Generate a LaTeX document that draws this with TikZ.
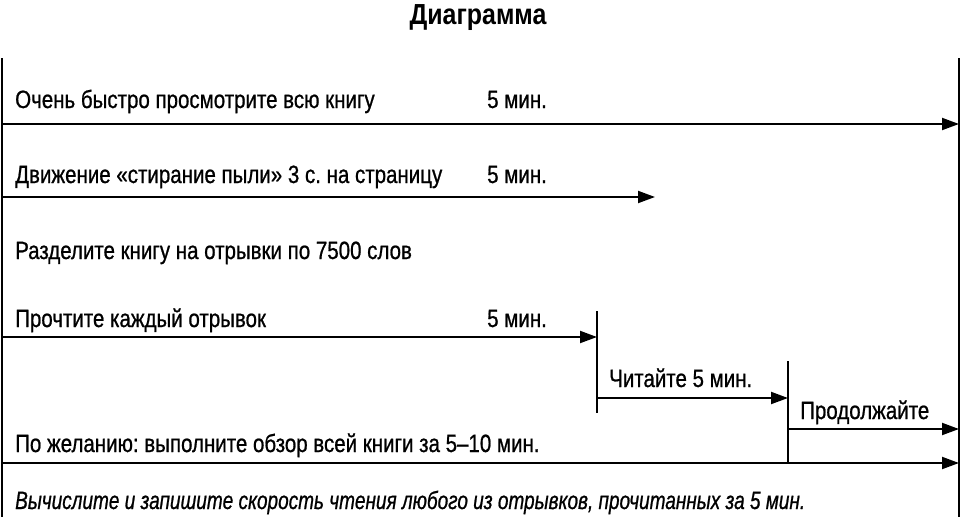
\documentclass[tikz,border=0pt]{standalone}
\usepackage{fontspec}
\setmainfont[FakeStretch=0.82,FakeBold=0.8,
  BoldFeatures={FakeStretch=0.86,FakeBold=0},
  ItalicFeatures={FakeStretch=0.76,FakeBold=0.8}]{Liberation Sans}
\frenchspacing
\usepackage{tikz}
\usetikzlibrary{arrows.meta}
\tikzset{
  line/.style={line width=2pt},
  arr/.style={line width=2pt,-{Triangle[length=17pt,width=12pt]}},
  lbl/.style={anchor=base west,inner sep=0pt,font=\fontsize{25}{29}\selectfont},
}
\begin{document}
\begin{tikzpicture}[x=1pt,y=-1pt]
            \useasboundingbox (0,0) rectangle (962,517);
            \node (title) at (478,24) [anchor=base,inner sep=0pt,font=\fontsize{29}{34}\selectfont\bfseries] {Диаграмма};
            % frame
            \coordinate (lt) at (2,58);
            \coordinate (lb) at (2,517);
            \coordinate (rt) at (959,58);
            \coordinate (rb) at (959,517);
            \draw[line] (lt)--(lb);
            \draw[line] (rt)--(rb);
            % steps
            \node (s1) at (15,108) [lbl] {Очень быстро просмотрите всю книгу};
            \node (t1) at (487,108) [lbl] {5 мин.};
            \coordinate (a1) at (2,124);
            \coordinate (b1) at (959,124);
            \draw[arr] (a1)--(b1);
            \node (s2) at (15,183) [lbl] {Движение «стирание пыли» 3 с. на страницу};
            \node (t2) at (487,183) [lbl] {5 мин.};
            \coordinate (a2) at (2,197);
            \coordinate (b2) at (655,197);
            \draw[arr] (a2)--(b2);
            \node (s3) at (15,259) [lbl] {Разделите книгу на отрывки по 7500 слов};
            \node (s4) at (15,327) [lbl] {Прочтите каждый отрывок};
            \node (t4) at (487,327) [lbl] {5 мин.};
            \coordinate (a4) at (2,337);
            \coordinate (b4) at (597,337);
            \draw[arr] (a4)--(b4);
            \coordinate (m1t) at (597,311);
            \coordinate (m1b) at (597,413);
            \draw[line] (m1t)--(m1b);
            \node (s5) at (609,387) [lbl] {Читайте 5 мин.};
            \coordinate (a5) at (597,398);
            \coordinate (b5) at (788,398);
            \draw[arr] (a5)--(b5);
            \coordinate (m2t) at (788,361);
            \coordinate (m2b) at (788,463);
            \draw[line] (m2t)--(m2b);
            \node (s6) at (800,419) [lbl] {Продолжайте};
            \coordinate (a6) at (788,429);
            \coordinate (b6) at (959,429);
            \draw[arr] (a6)--(b6);
            \node (s7) at (15,452) [lbl] {По желанию: выполните обзор всей книги за 5–10 мин.};
            \coordinate (a7) at (2,463);
            \coordinate (b7) at (959,463);
            \draw[arr] (a7)--(b7);
            \node (s8) at (15,509) [lbl,font=\fontsize{25}{29}\selectfont\itshape] {Вычислите и запишите скорость чтения любого из отрывков, прочитанных за 5 мин.};
        \end{tikzpicture}
\end{document}
